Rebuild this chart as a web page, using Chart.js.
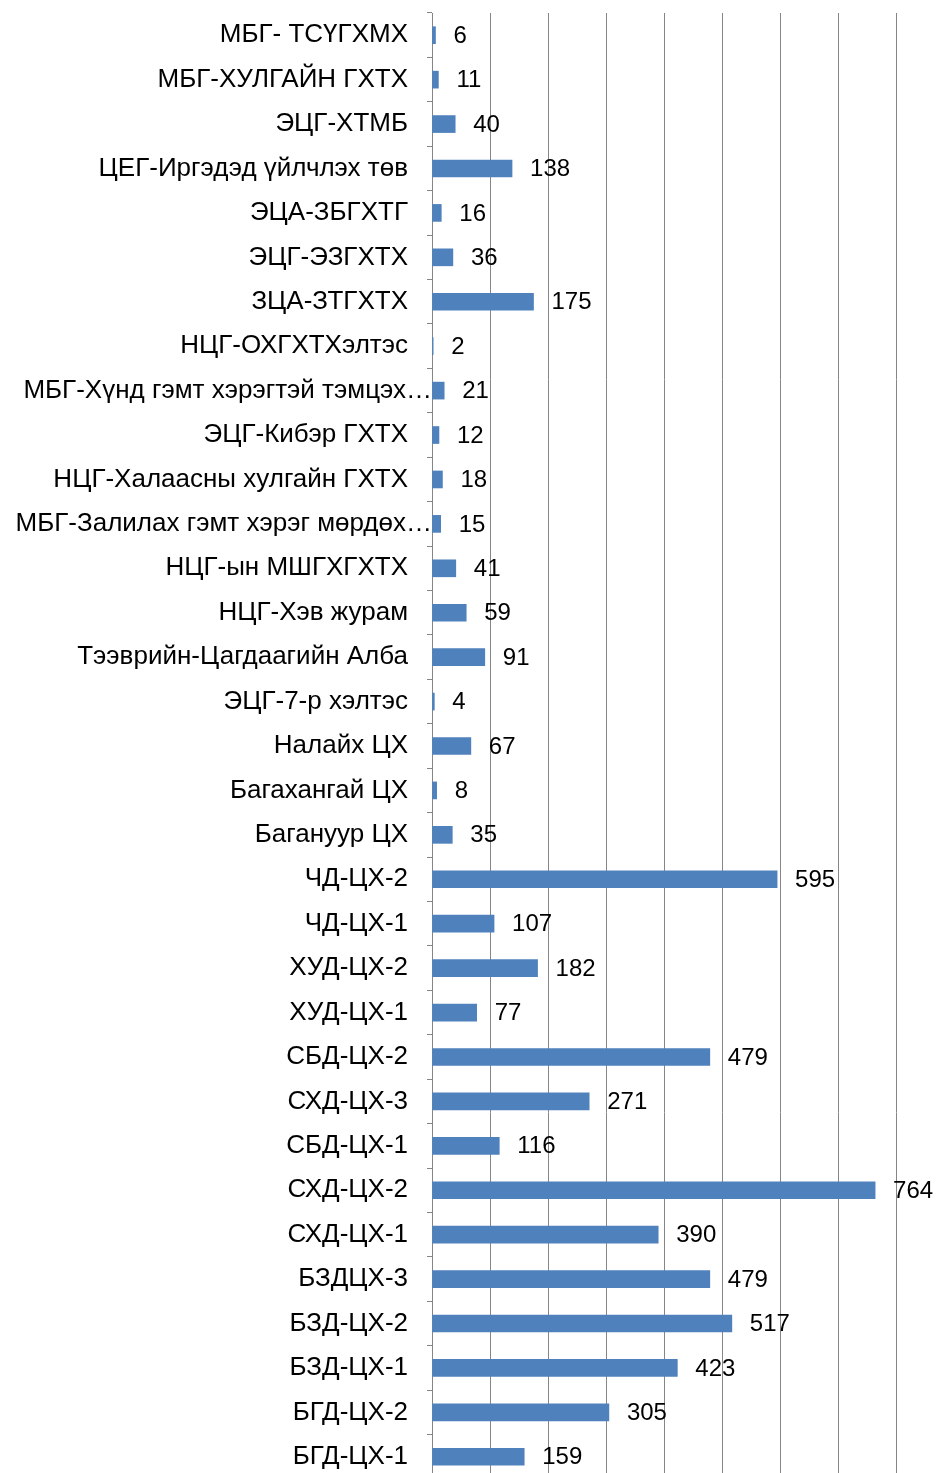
<!DOCTYPE html>
<html>
<head>
<meta charset="utf-8">
<script src="https://cdn.jsdelivr.net/npm/chart.js@4"></script>
<style>
  html, body { margin: 0; padding: 0; background: #fff; overflow: hidden; }
  #wrap { position: relative; width: 943px; height: 1480px; }
</style>
</head>
<body>
<div id="wrap"><canvas id="units"></canvas></div>
<script>
// units, top to bottom as in the picture
var units = [
  'МБГ- ТСҮГХМХ', 'МБГ-ХУЛГАЙН ГХТХ', 'ЭЦГ-ХТМБ', 'ЦЕГ-Иргэдэд үйлчлэх төв',
  'ЭЦА-ЗБГХТГ', 'ЭЦГ-ЭЗГХТХ', 'ЗЦА-ЗТГХТХ', 'НЦГ-ОХГХТХэлтэс',
  'МБГ-Хүнд гэмт хэрэгтэй тэмцэх…', 'ЭЦГ-Кибэр ГХТХ', 'НЦГ-Халаасны хулгайн ГХТХ',
  'МБГ-Залилах гэмт хэрэг мөрдөх…', 'НЦГ-ын МШГХГХТХ', 'НЦГ-Хэв журам',
  'Тээврийн-Цагдаагийн Алба', 'ЭЦГ-7-р хэлтэс', 'Налайх ЦХ', 'Багахангай ЦХ',
  'Багануур ЦХ', 'ЧД-ЦХ-2', 'ЧД-ЦХ-1', 'ХУД-ЦХ-2', 'ХУД-ЦХ-1', 'СБД-ЦХ-2',
  'СХД-ЦХ-3', 'СБД-ЦХ-1', 'СХД-ЦХ-2', 'СХД-ЦХ-1', 'БЗДЦХ-3', 'БЗД-ЦХ-2',
  'БЗД-ЦХ-1', 'БГД-ЦХ-2', 'БГД-ЦХ-1'
];
var counts = [
  6, 11, 40, 138, 16, 36, 175, 2, 21, 12, 18, 15, 41, 59, 91, 4, 67, 8, 35,
  595, 107, 182, 77, 479, 271, 116, 764, 390, 479, 517, 423, 305, 159
];
var xMin = 0, xMax = 800, xStep = 100;

var labelFont = '26px "Liberation Sans", Arial, sans-serif';
var isCut = function(i) { return units[i].slice(-1) === '…'; };

// value labels right of each bar
var valueLabels = {
  id: 'valueLabels',
  afterDatasetsDraw: function(chart) {
    var c = chart.ctx;
    var meta = chart.getDatasetMeta(0);
    c.save();
    c.font = '24px "Liberation Sans", Arial, sans-serif';
    c.fillStyle = '#000';
    c.textAlign = 'left';
    c.textBaseline = 'middle';
    meta.data.forEach(function(bar, i) {
      c.fillText(String(counts[i]), bar.x + 18, bar.y + 1);
    });
    c.restore();
  }
};

// the truncated labels run up to the axis line, like the original
var cutLabels = {
  id: 'cutLabels',
  afterDraw: function(chart) {
    var y = chart.scales.y;
    var c = chart.ctx;
    c.save();
    c.font = labelFont;
    c.fillStyle = '#000';
    c.textAlign = 'right';
    c.textBaseline = 'middle';
    units.forEach(function(u, i) {
      if (isCut(i)) c.fillText(u, y.right, y.getPixelForTick(i));
    });
    c.restore();
  }
};

var ctx = document.getElementById('units');
var chart = new Chart(ctx, {
  type: 'bar',
  data: {
    labels: units,
    datasets: [{
      data: counts,
      backgroundColor: '#4F81BD',
      borderWidth: 0,
      barThickness: 17
    }]
  },
  options: {
    indexAxis: 'y',
    responsive: true,
    maintainAspectRatio: false,
    animation: false,
    layout: { padding: { top: 13, bottom: 1, left: 0, right: 47 } },
    plugins: {
      legend: { display: false },
      tooltip: { enabled: false }
    },
    scales: {
      x: {
        min: xMin,
        max: xMax,
        ticks: { display: false, stepSize: xStep },
        grid: { color: '#868686', lineWidth: 1, drawTicks: false },
        border: { display: false }
      },
      y: {
        afterFit: function(scale) {
          scale.width = 432;
          scale.paddingTop = 0;
          scale.paddingBottom = 0;
        },
        ticks: {
          color: function(c) { return isCut(c.index) ? 'rgba(0,0,0,0)' : '#000'; },
          padding: 19,
          autoSkip: false,
          font: { family: '"Liberation Sans", Arial, sans-serif', size: 26 }
        },
        grid: {
          offset: true,
          drawOnChartArea: false,
          drawTicks: true,
          tickLength: 5,
          color: '#868686'
        },
        border: { display: true, color: '#868686', width: 1 }
      }
    }
  },
  plugins: [valueLabels, cutLabels]
});
</script>
</body>
</html>
